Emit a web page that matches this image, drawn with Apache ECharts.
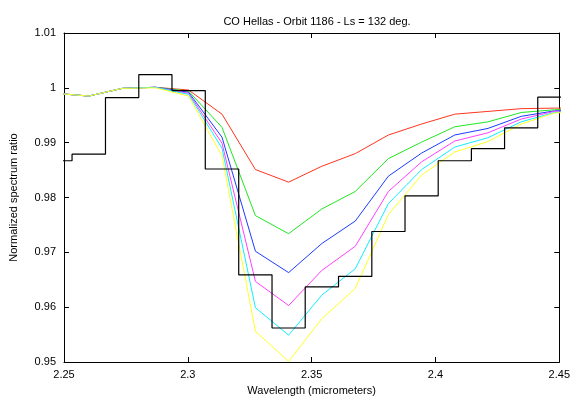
<!DOCTYPE html>
<html>
<head>
<meta charset="utf-8">
<script src="https://cdn.jsdelivr.net/npm/echarts@6/dist/echarts.min.js"></script>
<style>
  html, body { margin: 0; padding: 0; background: #fff; }
  #chart { width: 573px; height: 401px; }
</style>
</head>
<body>
<div id="chart"></div>
<script>
// wavelengths (micrometers) of the sampled points
const wavelengths = [2.2465, 2.2600, 2.2735, 2.2869, 2.3003, 2.3138, 2.3273, 2.3407, 2.3541,
  2.3676, 2.3810, 2.3944, 2.4078, 2.4212, 2.4346, 2.4480, 2.4614]

// observed spectrum (drawn as steps)
const observed = [0.9867, 0.9879, 0.9982, 1.0024, 0.9995, 0.9852, 0.9659, 0.9562, 0.9637,
  0.9656, 0.9738, 0.9803, 0.9867, 0.9889, 0.9927, 0.9983, 0.9983]

// model curves
const modelRed = [0.9990, 0.9985, 0.9999, 1.0001, 0.9996, 0.9952, 0.9851, 0.9828, 0.9857,
  0.9880, 0.9914, 0.9934, 0.9952, 0.9957, 0.9962, 0.9963, 0.9963]
const modelGreen = [0.9990, 0.9985, 0.9999, 1.0001, 0.9994, 0.9928, 0.9767, 0.9734, 0.9779,
  0.9811, 0.9871, 0.9901, 0.9929, 0.9938, 0.9955, 0.9960, 0.9962]
const modelBlue = [0.9990, 0.9985, 0.9999, 1.0001, 0.9992, 0.9910, 0.9702, 0.9663, 0.9716,
  0.9757, 0.9839, 0.9881, 0.9914, 0.9926, 0.9948, 0.9958, 0.9961]
const modelMagenta = [0.9990, 0.9985, 0.9999, 1.0001, 0.9990, 0.9899, 0.9647, 0.9603, 0.9667,
  0.9711, 0.9811, 0.9865, 0.9903, 0.9918, 0.9943, 0.9957, 0.9960]
const modelCyan = [0.9990, 0.9985, 0.9999, 1.0001, 0.9988, 0.9890, 0.9599, 0.9549, 0.9622,
  0.9670, 0.9789, 0.9851, 0.9892, 0.9909, 0.9938, 0.9955, 0.9959]
const modelYellow = [0.9990, 0.9985, 0.9999, 1.0000, 0.9985, 0.9876, 0.9556, 0.9501, 0.9579,
  0.9634, 0.9769, 0.9841, 0.9883, 0.9902, 0.9934, 0.9954, 0.9958]

const models = [
  { name: 'red', color: '#ff3420', values: modelRed },
  { name: 'green', color: '#20e620', values: modelGreen },
  { name: 'blue', color: '#1c3cff', values: modelBlue },
  { name: 'magenta', color: '#ff40ff', values: modelMagenta },
  { name: 'cyan', color: '#10eeff', values: modelCyan },
  { name: 'yellow', color: '#ffff22', values: modelYellow }
]

const pairs = (ys) => wavelengths.map((x, i) => [x, ys[i]])

const fontFamily = 'Liberation Sans, Arial, sans-serif'
const mirrorTick = { show: true, inside: true, length: 5, lineStyle: { color: '#000' } }
const frameLine = { show: true, onZero: false, lineStyle: { color: '#000', width: 1 } }

const chart = echarts.init(document.getElementById('chart'))

chart.setOption({
  animation: false,
  title: {
    text: 'CO Hellas - Orbit 1186 - Ls = 132 deg.',
    left: 312,
    textAlign: 'center',
    top: 11,
    textStyle: { fontFamily, fontSize: 11, fontWeight: 'normal', color: '#000' }
  },
  grid: { left: 63, right: 11, top: 33, bottom: 35 },
  xAxis: [
    {
      type: 'value',
      min: 2.25,
      max: 2.45,
      interval: 0.05,
      name: 'Wavelength (micrometers)',
      nameLocation: 'middle',
      nameGap: 23,
      nameTextStyle: { fontFamily, fontSize: 11, color: '#000' },
      axisLine: frameLine,
      axisTick: mirrorTick,
      axisLabel: { fontFamily, fontSize: 11, color: '#000', margin: 7 },
      splitLine: { show: false }
    },
    {
      type: 'value',
      position: 'top',
      min: 2.25,
      max: 2.45,
      interval: 0.05,
      axisLine: frameLine,
      axisTick: mirrorTick,
      axisLabel: { show: false },
      splitLine: { show: false }
    }
  ],
  yAxis: [
    {
      type: 'value',
      min: 0.95,
      max: 1.01,
      interval: 0.01,
      name: 'Normalized spectrum ratio',
      nameLocation: 'middle',
      nameGap: 45,
      nameTextStyle: { fontFamily, fontSize: 11, color: '#000' },
      axisLine: frameLine,
      axisTick: mirrorTick,
      axisLabel: { fontFamily, fontSize: 11, color: '#000', margin: 8 },
      splitLine: { show: false }
    },
    {
      type: 'value',
      position: 'right',
      min: 0.95,
      max: 1.01,
      interval: 0.01,
      axisLine: frameLine,
      axisTick: mirrorTick,
      axisLabel: { show: false },
      splitLine: { show: false }
    }
  ],
  series: [
    ...models.map((m) => ({
      name: m.name,
      type: 'line',
      data: pairs(m.values),
      showSymbol: false,
      symbol: 'none',
      clip: true,
      lineStyle: { color: m.color, width: 1 },
      itemStyle: { color: m.color }
    })),
    {
      name: 'observed',
      type: 'line',
      step: 'middle',
      data: pairs(observed),
      symbol: 'none',
      clip: true,
      lineStyle: { color: '#000', width: 1.2 },
      itemStyle: { color: '#000' }
    }
  ]
})
</script>
</body>
</html>
